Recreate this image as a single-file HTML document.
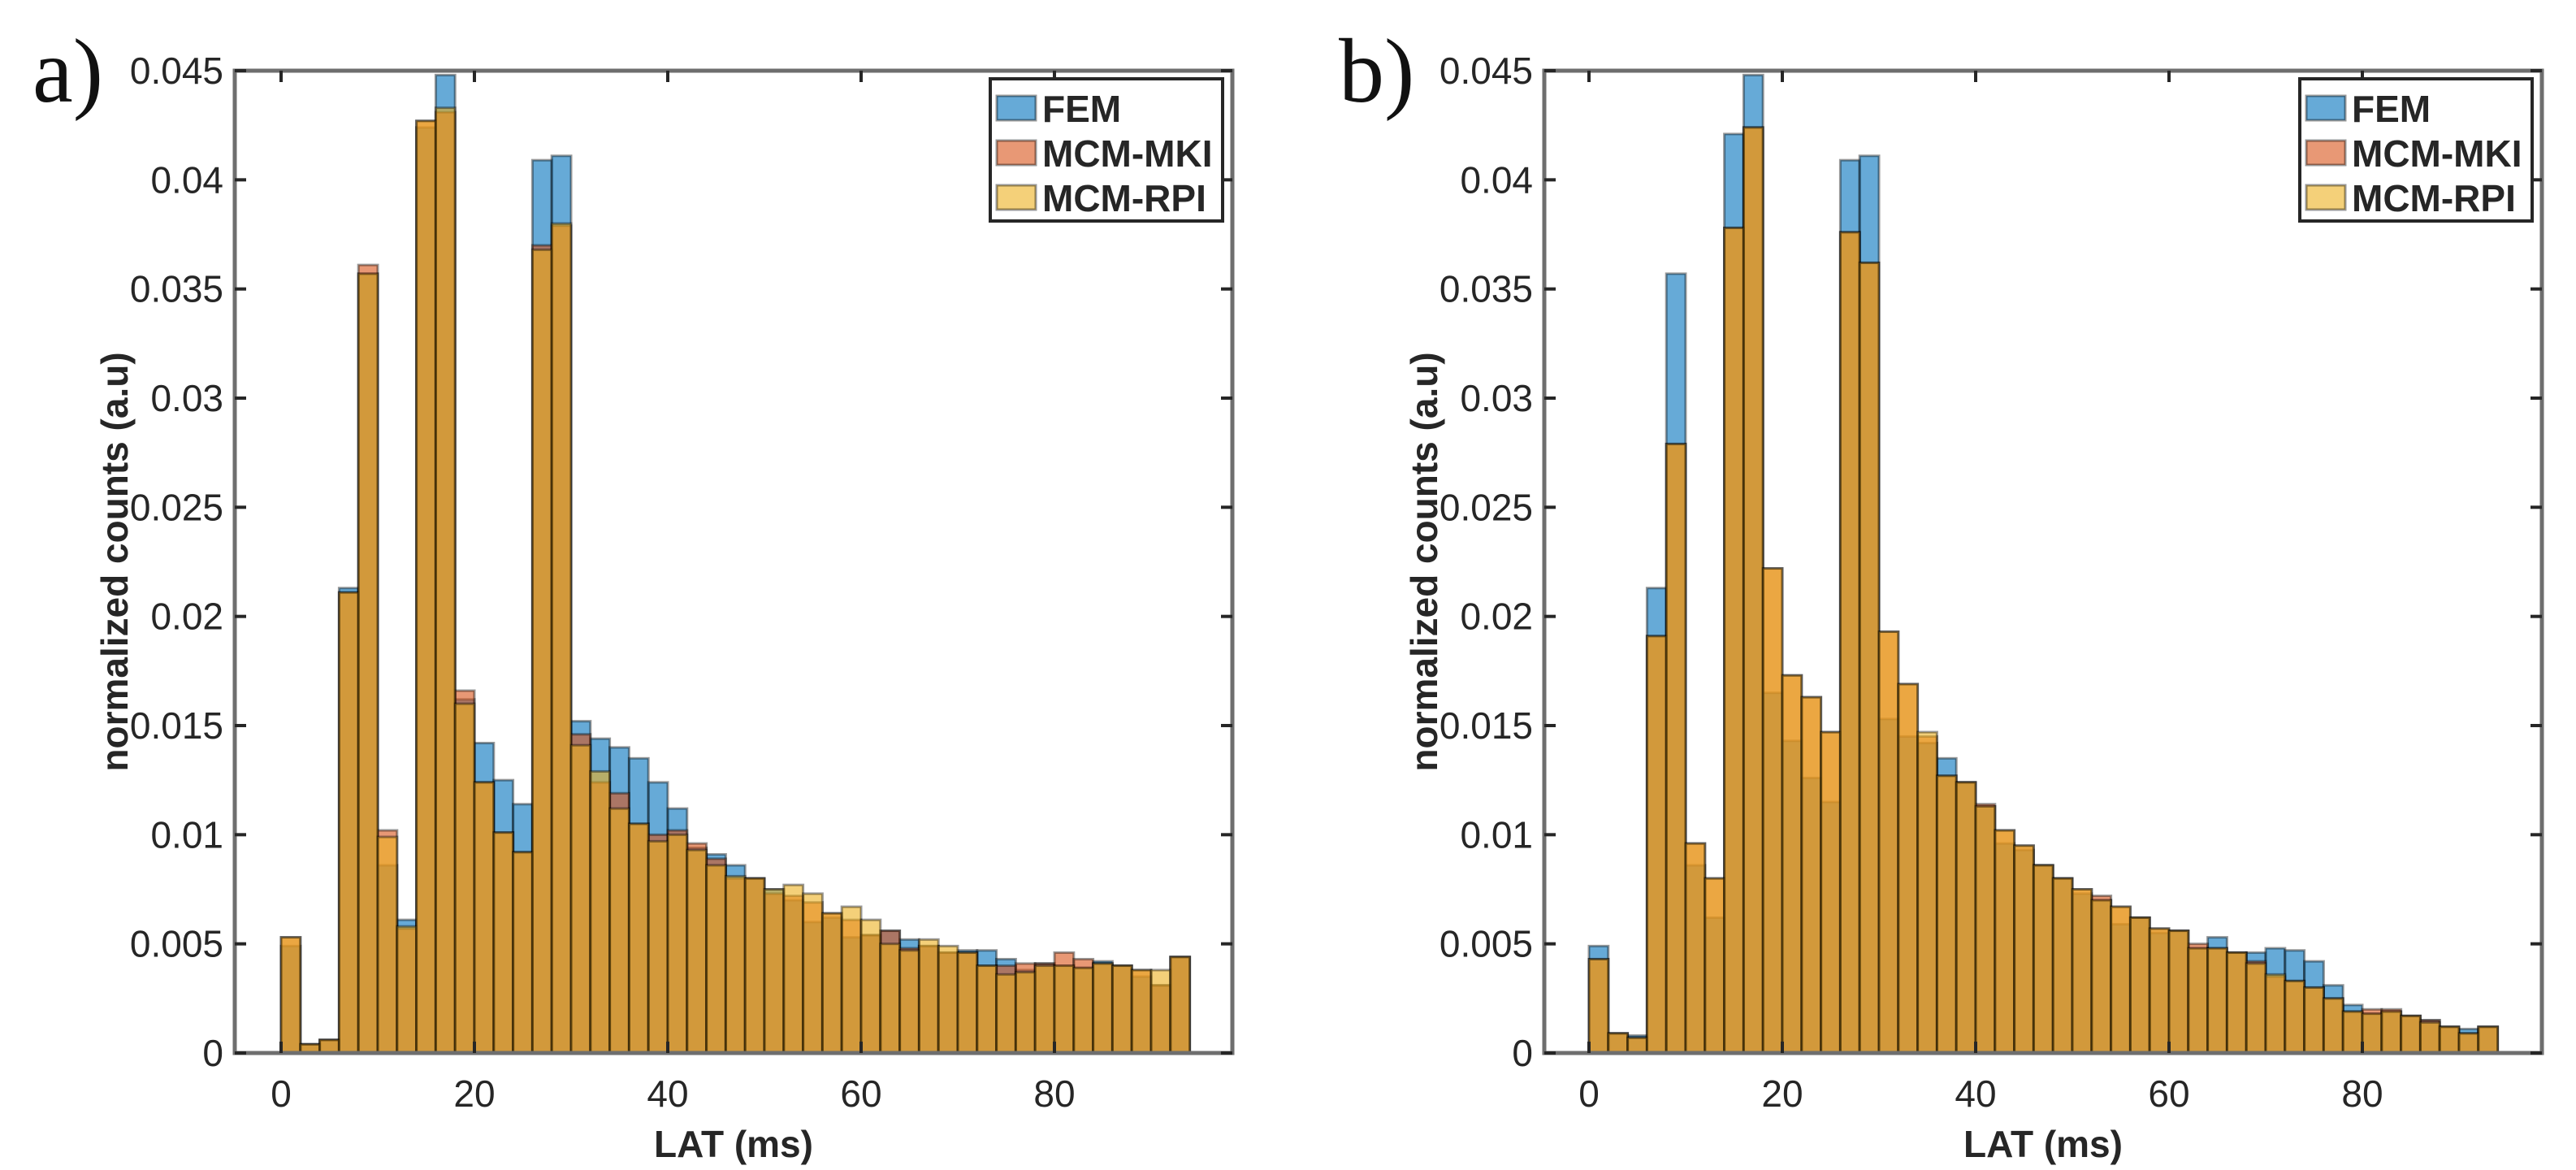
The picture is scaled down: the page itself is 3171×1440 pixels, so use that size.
<!DOCTYPE html>
<html><head><meta charset="utf-8"><style>
html,body{margin:0;padding:0;background:#fff;}
svg{display:block;}
text{font-family:"Liberation Sans",sans-serif;fill:#262626;}
</style></head>
<body>
<svg id="fig" width="3171" height="1440" viewBox="0 0 3171 1440" xmlns="http://www.w3.org/2000/svg">
<text x="40" y="125" style="font-family:'Liberation Serif',serif;font-size:112px;fill:#111">a)</text>
<text x="1648" y="125" style="font-family:'Liberation Serif',serif;font-size:112px;fill:#111">b)</text>
<g id="panelA"></g>
<g id="panelB"></g>
</svg>
<script>
const binEdgesStart = 0;
const binWidth = 2;
const seriesNames = ["FEM", "MCM-MKI", "MCM-RPI"];
const yTicks = [0, 0.005, 0.01, 0.015, 0.02, 0.025, 0.03, 0.035, 0.04, 0.045];
const yTickLabels = ["0", "0.005", "0.01", "0.015", "0.02", "0.025", "0.03", "0.035", "0.04", "0.045"];
const xTicks = [0, 20, 40, 60, 80];
const xTickLabels = ["0", "20", "40", "60", "80"];
const femA = [0.0049,0.0004,0.0006,0.0213,0.0357,0.0086,0.0061,0.0424,0.0448,0.0162,0.0142,0.0125,0.0114,0.0409,0.0411,0.0152,0.0144,0.0140,0.0135,0.0124,0.0112,0.0094,0.0091,0.0086,0.0080,0.0075,0.0070,0.0060,0.0062,0.0053,0.0054,0.0056,0.0052,0.0049,0.0046,0.0047,0.0047,0.0043,0.0038,0.0041,0.0040,0.0039,0.0042,0.0040,0.0035,0.0031,0.0044];
const mkiA = [0.0053,0.0004,0.0006,0.0211,0.0361,0.0102,0.0057,0.0427,0.0431,0.0166,0.0124,0.0101,0.0092,0.0370,0.0379,0.0146,0.0124,0.0119,0.0105,0.0100,0.0102,0.0096,0.0089,0.0080,0.0080,0.0073,0.0072,0.0069,0.0064,0.0061,0.0054,0.0056,0.0048,0.0049,0.0046,0.0046,0.0040,0.0040,0.0041,0.0041,0.0046,0.0043,0.0041,0.0040,0.0038,0.0031,0.0044];
const rpiA = [0.0053,0.0004,0.0006,0.0211,0.0357,0.0099,0.0058,0.0427,0.0433,0.0160,0.0124,0.0101,0.0092,0.0368,0.0380,0.0141,0.0129,0.0112,0.0105,0.0097,0.0100,0.0093,0.0086,0.0081,0.0080,0.0075,0.0077,0.0073,0.0064,0.0067,0.0061,0.0050,0.0047,0.0052,0.0049,0.0046,0.0040,0.0036,0.0037,0.0040,0.0040,0.0039,0.0041,0.0040,0.0038,0.0038,0.0044];
const femB = [0.0049,0.0009,0.0008,0.0213,0.0357,0.0086,0.0062,0.0421,0.0448,0.0165,0.0143,0.0126,0.0115,0.0409,0.0411,0.0153,0.0145,0.0142,0.0135,0.0124,0.0113,0.0096,0.0093,0.0086,0.0080,0.0073,0.0070,0.0059,0.0062,0.0055,0.0056,0.0048,0.0053,0.0046,0.0046,0.0048,0.0047,0.0042,0.0031,0.0022,0.0018,0.0019,0.0017,0.0015,0.0012,0.0011,0.0012];
const mkiB = [0.0043,0.0009,0.0007,0.0191,0.0279,0.0096,0.0080,0.0378,0.0424,0.0222,0.0173,0.0163,0.0147,0.0376,0.0362,0.0193,0.0169,0.0145,0.0127,0.0124,0.0114,0.0102,0.0095,0.0086,0.0080,0.0075,0.0072,0.0067,0.0062,0.0057,0.0056,0.0050,0.0048,0.0046,0.0042,0.0035,0.0033,0.0030,0.0025,0.0019,0.0020,0.0020,0.0017,0.0015,0.0012,0.0009,0.0012];
const rpiB = [0.0043,0.0009,0.0007,0.0191,0.0279,0.0096,0.0080,0.0378,0.0424,0.0222,0.0173,0.0163,0.0147,0.0376,0.0362,0.0193,0.0169,0.0147,0.0127,0.0124,0.0113,0.0102,0.0095,0.0086,0.0080,0.0075,0.0070,0.0067,0.0062,0.0057,0.0056,0.0048,0.0048,0.0046,0.0041,0.0036,0.0033,0.0030,0.0025,0.0019,0.0018,0.0019,0.0017,0.0014,0.0012,0.0009,0.0012];

const NS = "http://www.w3.org/2000/svg";
const colors = ["#0072bd", "#d95319", "#edb120"];
const YMAX = 0.045;

function mk(tag, attrs, parent) {
  const e = document.createElementNS(NS, tag);
  for (const k in attrs) e.setAttribute(k, attrs[k]);
  parent.appendChild(e);
  return e;
}

function drawPanel(g, L, R, T, B, x0px, pxPerMs, series, prefix) {
  const xs = v => x0px + v * pxPerMs;
  const ys = v => B - v / YMAX * (B - T);
  // bars
  series.forEach((arr, si) => {
    const sg = mk("g", {}, g);
    
    
    arr.forEach((v, i) => {
      const a = binEdgesStart + i * binWidth;
      const top = Math.max(ys(v), T);
      const r = mk("rect", {x: xs(a), y: top, width: xs(a + binWidth) - xs(a), height: B - top,
        fill: colors[si], "fill-opacity": 0.6, stroke: "#000", "stroke-opacity": 0.4, "stroke-width": 3}, sg);
      
      
    });
  });
  // axes box
  const box = mk("rect", {x: L, y: T, width: R - L, height: B - T, fill: "none", stroke: "#6e6e6e", "stroke-width": 5}, g);
  
  
  // y ticks
  yTicks.forEach((t, i) => {
    const y = ys(t);
    mk("line", {x1: L, x2: L + 14, y1: y, y2: y, stroke: "#262626", "stroke-width": 4}, g);
    mk("line", {x1: R, x2: R - 14, y1: y, y2: y, stroke: "#262626", "stroke-width": 4}, g);
    const tx = mk("text", {x: L - 14, y: y + 16, "text-anchor": "end", "font-size": 46}, g);
    tx.textContent = yTickLabels[i];
    
    
  });
  xTicks.forEach((t, i) => {
    const x = xs(t);
    mk("line", {x1: x, x2: x, y1: B, y2: B - 14, stroke: "#262626", "stroke-width": 4}, g);
    mk("line", {x1: x, x2: x, y1: T, y2: T + 14, stroke: "#262626", "stroke-width": 4}, g);
    const tx = mk("text", {x: x, y: B + 66, "text-anchor": "middle", "font-size": 46}, g);
    tx.textContent = xTickLabels[i];
    
    
  });
  const xl = mk("text", {x: (L + R) / 2, y: B + 128, "text-anchor": "middle", "font-size": 46, "font-weight": "bold"}, g);
  xl.textContent = "LAT (ms)";
  
  
  const yl = mk("text", {x: 0, y: 0, "text-anchor": "middle", "font-size": 46, "font-weight": "bold",
    transform: "translate(" + (L - 132) + "," + ((T + B) / 2) + ") rotate(-90)"}, g);
  yl.textContent = "normalized counts (a.u)";
  
  
  // legend
  const lw = 286, lh = 175, lx = R - 12 - lw, ly = T + 10;
  const lg = mk("g", {}, g);
  
  
  mk("rect", {x: lx, y: ly, width: lw, height: lh, fill: "#fff", stroke: "#262626", "stroke-width": 4}, lg);
  seriesNames.forEach((n, i) => {
    const cy = ly + 36 + i * 55;
    const sw = mk("rect", {x: lx + 8, y: cy - 15, width: 48, height: 30, fill: colors[i], "fill-opacity": 0.6, stroke: "#000", "stroke-opacity": 0.4, "stroke-width": 3}, lg);
    
    
    const tx = mk("text", {x: lx + 64, y: cy + 17, "font-size": 46, "font-weight": "bold", fill: "#111"}, lg);
    tx.textContent = n;
    
    
  });
}

drawPanel(document.getElementById("panelA"), 289, 1517, 87, 1296, 346, 11.9, [femA, mkiA, rpiA], "a");
drawPanel(document.getElementById("panelB"), 1901, 3129, 87, 1296, 1956, 11.9, [femB, mkiB, rpiB], "b");
</script>
</body></html>
